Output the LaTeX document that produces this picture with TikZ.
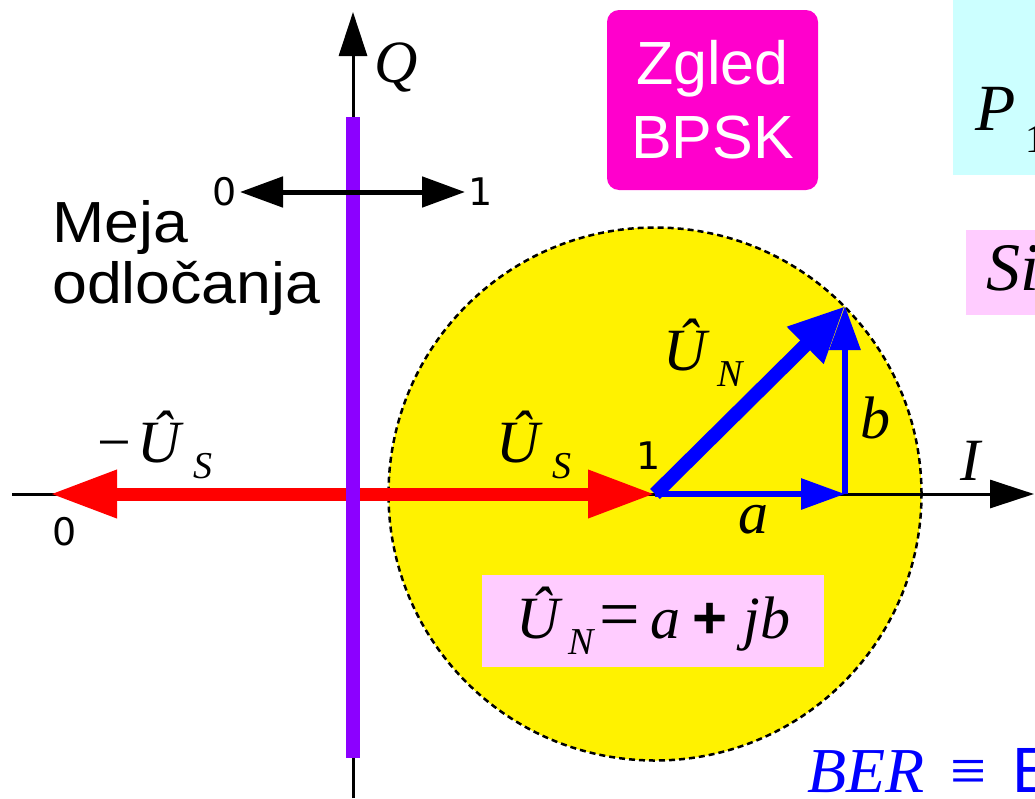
\documentclass[tikz,border=0pt]{standalone}
\usepackage{fontspec}
\setmainfont{Liberation Serif}
\setsansfont{Liberation Sans}
\newfontfamily\widesans{Liberation Sans}[FakeStretch=1.08]
\newfontfamily\digitfont{DejaVu Sans}
\usetikzlibrary{arrows.meta}
\definecolor{zgledpink}{RGB}{255, 0, 204}
\definecolor{boxpink}{RGB}{255, 204, 255}
\definecolor{boxcyan}{RGB}{204, 255, 255}
\definecolor{mejaviolet}{RGB}{140, 0, 255}
% italic symbol with a low, detached subscript
\newcommand{\vsub}[3][8pt]{\textit{#2}\kern#1\raisebox{-16pt}{\fontsize{38}{38}\selectfont\textit{#3}}}

\begin{document}
\begin{tikzpicture}[x=1pt, y=-1pt,
  axisline/.style={line width=3pt, -{Triangle[length=44pt, width=28pt]}},
  lbl/.style={inner sep=0pt, anchor=base west, font=\fontsize{60}{60}\selectfont},
  digit/.style={inner sep=0pt, anchor=base west, font=\fontsize{38}{38}\selectfont\digitfont},
  sanslbl/.style={inner sep=0pt, anchor=base west, font=\fontsize{58}{58}\selectfont\widesans},
  bluevec/.style={blue, line width=6pt, -{Triangle[length=44pt, width=30pt]}}]
\useasboundingbox (0,0) rectangle (1035,798);
\clip (0,0) rectangle (1035,798);

% boxes cut by the right edge
\fill[boxcyan] (953,0) rectangle (1045,175);
\node[lbl, font=\fontsize{66}{66}\selectfont] (pone) at (975,130) {\textit{P}\kern10pt\raisebox{-22pt}{\fontsize{40}{40}\selectfont 1}};
\fill[boxpink] (966,230) rectangle (1045,315);
\node[lbl, font=\fontsize{68}{68}\selectfont] (si) at (986,290) {\textit{Si}};
\node[lbl, font=\fontsize{64}{64}\selectfont, text=blue] (ber) at (807,792) {\textit{BER}\hspace{26pt}≡\hspace{26pt}{\sffamily E}};

% example box
\node[rounded corners=12pt, fill=zgledpink, text=white, minimum width=211pt, minimum height=180pt,
  align=center, inner sep=0pt, font=\fontsize{61}{74}\selectfont\sffamily] (zgled) at (712.5,100) {Zgled\\BPSK};

% points
\coordinate (origin) at (353,494);
\coordinate (qtop) at (353,12);
\coordinate (qbot) at (353,798);
\coordinate (ileft) at (12,494);
\coordinate (iright) at (1034,494);
\coordinate (sym0) at (50,494);
\coordinate (sym1) at (655,494);
\coordinate (noise) at (845,306);
\coordinate (foot) at (845,494);
\coordinate (mejatop) at (353,117);
\coordinate (mejabot) at (353,758);
\coordinate (dec0) at (240,192);
\coordinate (dec1) at (465,192);

% noise circle
\node[circle, minimum size=533pt, inner sep=0pt, fill=yellow, draw=black, line width=2.5pt,
  dash pattern=on 6pt off 4pt] (noisecircle) at (sym1) {};

% axes
\draw[axisline] (ileft) -- (iright);
\draw[axisline] (qbot) -- (qtop);
\node[lbl] (qlbl) at (374,82) {\textit{Q}};
\node[lbl] (ilbl) at (960,480) {\textit{I}};

% symbols
\draw[red, line width=13pt, {Triangle[length=67pt, width=45pt]}-{Triangle[length=67pt, width=45pt]}] (sym0) -- (sym1);
\draw[mejaviolet, line width=14pt] (mejatop) -- (mejabot);
\draw[line width=5pt, {Triangle[length=43pt, width=30pt]}-{Triangle[length=43pt, width=30pt]}] (dec0) -- (dec1);
\node[digit] (dzero) at (212,205) {0};
\node[digit] (done) at (468,205) {1};
\node[digit] (szero) at (52,545) {0};
\node[digit] (sone) at (636,469) {1};

\node[sanslbl] (mejaa) at (52,242) {Meja};
\node[sanslbl] (mejab) at (52,303) {odločanja};

\node[lbl] (usneg) at (97,462) {−\kern6pt\vsub[10pt]{Û}{S}};
\node[lbl] (uspos) at (496,462) {\vsub[10pt]{Û}{S}};

% noise vector
\draw[bluevec] (sym1) -- (foot);
\draw[bluevec] (foot) -- (noise);
\draw[blue, line width=14pt, -{Triangle[length=56pt, width=48pt]}] (sym1) -- (noise);
\node[lbl] (unlbl) at (663,370) {\vsub{Û}{N}};
\node[lbl] (albl) at (738,533) {\textit{a}};
\node[lbl] (blbl) at (860,438) {\textit{b}};

\node[fill=boxpink, minimum width=342pt, minimum height=92pt, inner sep=0pt,
  font=\fontsize{60}{60}\selectfont] (equation) at (653,621)
  {\raisebox{6pt}{\vsub[6pt]{Û}{N}\kern4pt{\fontsize{72}{72}\selectfont=}\kern10pt\textit{a}\kern12pt{\sffamily\bfseries +}\kern16pt\textit{jb}}};
\end{tikzpicture}
\end{document}
